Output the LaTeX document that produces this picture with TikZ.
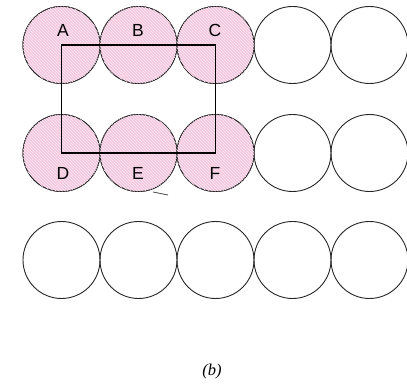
\documentclass[tikz,border=0pt]{standalone}
\usepackage{fontspec}
\setmainfont{Liberation Serif}
\setsansfont{Liberation Sans}
\usepackage{xcolor}
\usepackage{tikz}
\usetikzlibrary{patterns}

\definecolor{atompink}{RGB}{244,200,224}
\definecolor{hatchpink}{RGB}{252,232,243}

\tikzset{
  atom/.style={circle, draw=black!85, line width=0.9pt, minimum size=77pt, inner sep=0pt},
  filled/.style={fill=atompink, postaction={pattern=north west lines, pattern color=hatchpink}},
  letter/.style={font=\fontsize{17.5}{19}\sffamily},
}

\begin{document}
\begin{tikzpicture}[x=1pt,y=-1pt]
  \useasboundingbox (0,0) rectangle (407,387);
  % three rows of five atoms
  \foreach \r/\y in {1/45,2/153,3/260}
    \foreach \c in {1,...,5}
      \node[atom] (a\r\c) at ({61.5+77*(\c-1)},\y) {};
  % shaded atoms of the cell
  \foreach \r in {1,2}
    \foreach \c in {1,2,3}
      \node[atom, filled] at (a\r\c) {};
  % labels
  \node[letter] (lA) at (63,30) {A};
  \node[letter] (lB) at (138,30) {B};
  \node[letter] (lC) at (215,30) {C};
  \node[letter] (lD) at (63,173) {D};
  \node[letter] (lE) at (138,173) {E};
  \node[letter] (lF) at (215,173) {F};
  % unit cell
  \draw[line width=1.4pt] (a11.center) -- (a13.center) -- (a23.center) -- (a21.center) -- cycle;
  % stray mark
  \coordinate (m1) at (153,192);
  \coordinate (m2) at (168,195);
  \draw[line width=0.8pt, black!70] (m1) -- (m2);
  % caption
  \node[font=\fontsize{16.5}{18}\selectfont\itshape] (cap) at (212,372) {(b)};
\end{tikzpicture}
\end{document}
